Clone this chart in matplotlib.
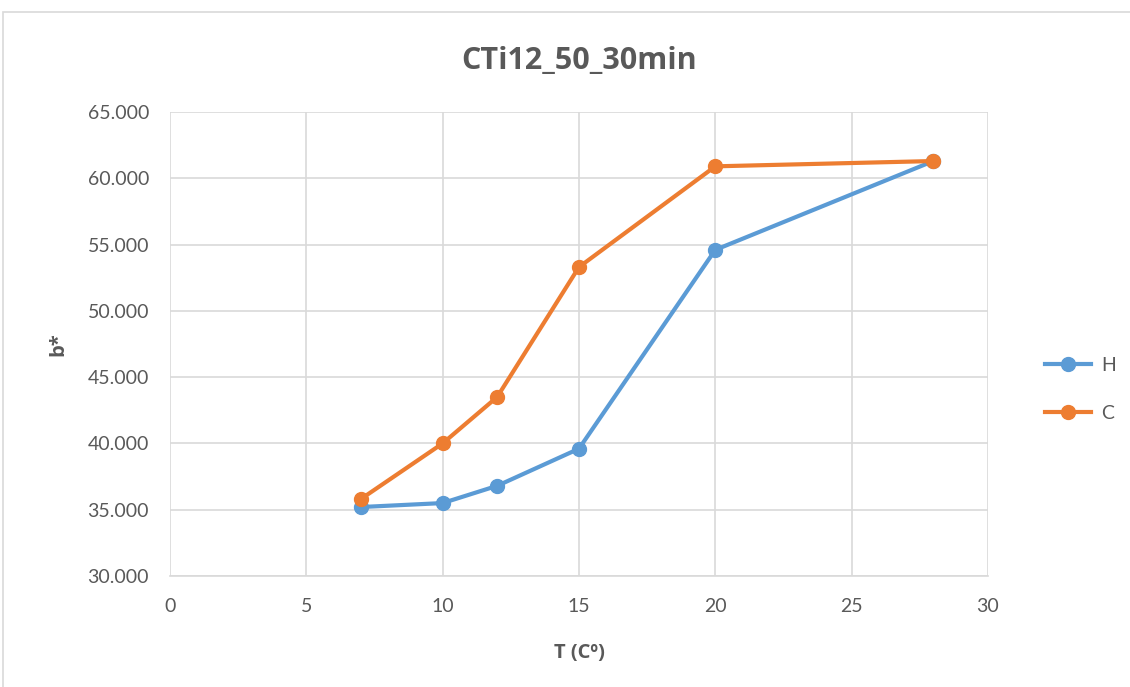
import matplotlib.pyplot as plt
from matplotlib.patches import Rectangle

# data
temps = [7, 10, 12, 15, 20, 28]
b_H = [35.2, 35.5, 36.8, 39.6, 54.6, 61.3]
b_C = [35.8, 40.0, 43.5, 53.3, 60.9, 61.3]

BLUE = '#5B9BD5'
ORANGE = '#ED7D31'
TEXT = '#595959'
GRID = '#D9D9D9'

plt.rcParams['font.family'] = ['Lato', 'DejaVu Sans']
BOLD_FONT = ['Open Sans', 'DejaVu Sans']

fig = plt.figure(figsize=(11.3, 6.87), dpi=100)
ax = fig.add_axes([0.1504, 0.1616, 0.7239, 0.6754])

# chart border
fig.patches.append(Rectangle((3 / 1130, -0.01), 1.02, 1 - 12 / 687 + 0.01,
                             transform=fig.transFigure, fill=False,
                             edgecolor=GRID, linewidth=1.2))

ax.plot(temps, b_H, color=BLUE, linewidth=3, marker='o', markersize=10,
        label='H', zorder=3)
ax.plot(temps, b_C, color=ORANGE, linewidth=3, marker='o', markersize=10,
        label='C', zorder=3)

ax.set_xlim(0, 30)
ax.set_ylim(30, 65)
ax.set_xticks(range(0, 31, 5))
ax.set_yticks(range(30, 66, 5))
ax.set_yticklabels([f'{v:.3f}' for v in range(30, 66, 5)])

ax.grid(True, color=GRID, linewidth=1.2)
ax.set_axisbelow(True)
for side in ['top', 'right', 'left']:
    ax.spines[side].set_visible(False)
ax.spines['bottom'].set_color(GRID)
ax.spines['bottom'].set_linewidth(1.2)
ax.tick_params(length=0, labelsize=14, colors=TEXT, pad=15)
ax.tick_params(axis='x', pad=16)

ax.set_title('CTi12_50_30min', fontsize=22, fontweight='bold', color=TEXT,
             pad=31, family=BOLD_FONT)
ax.set_xlabel('T (Cº)', fontsize=14.5, fontweight='bold', color=TEXT,
              labelpad=20, family=BOLD_FONT)
ax.set_ylabel('b*', fontsize=14.5, fontweight='bold', color=TEXT,
              labelpad=14, family=BOLD_FONT)

ax.legend(loc='center left', bbox_to_anchor=(1.048, 0.402), frameon=False,
          fontsize=14, labelcolor=TEXT, handlelength=2.4, labelspacing=1.6,
          handletextpad=0.5)

plt.savefig('out.png', dpi=100)
plt.close()
